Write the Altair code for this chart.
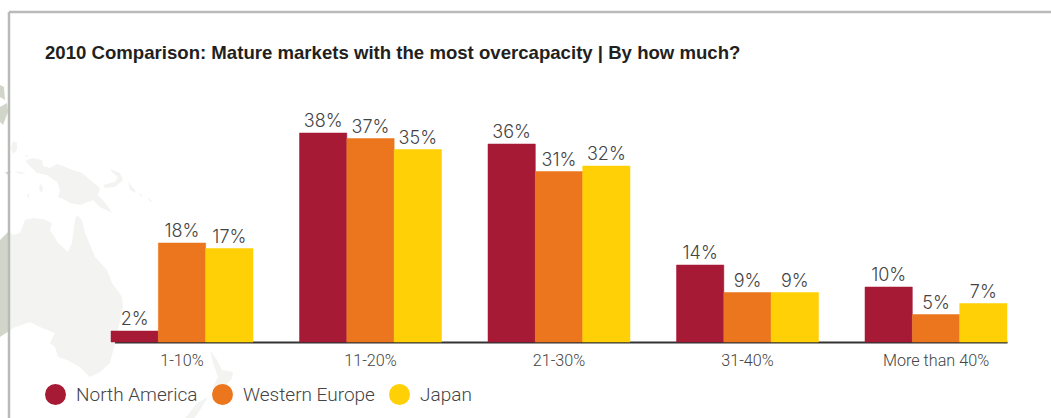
import altair as alt
import pandas as pd

# Overcapacity bands and the share of respondents in each region
bands = ["1-10%", "11-20%", "21-30%", "31-40%", "More than 40%"]
regions = ["North America", "Western Europe", "Japan"]
north_america = [2, 38, 36, 14, 10]
western_europe = [18, 37, 31, 9, 5]
japan = [17, 35, 32, 9, 7]
region_colors = ["#a61a36", "#eb761e", "#ffd005"]
chart_title = ["2010 Comparison: Mature markets with the most overcapacity | By how much?"]

# Backdrop map outlines, as (lon, lat) rings
australia = [(128.9, -14.1), (129.7, -14.7), (131.1, -14.3), (132.1, -11.7), (133.7, -11.3),
             (135.7, -11.5), (137.5, -12.3), (137.1, -13.7), (138.7, -16.3), (140.7, -18.1),
             (141.5, -16.3), (142.1, -11.7), (142.5, -10.7), (143.5, -11.7), (144.1, -14.3),
             (146.1, -19.1), (148.5, -21.7), (149.5, -24.3), (151.5, -27.1), (151.7, -29.1),
             (150.1, -36.3), (149.1, -40.3), (147.1, -42.1), (145.1, -43.1), (143.1, -41.1),
             (140.5, -39.7), (138.7, -39.1), (138.1, -37.1), (137.1, -36.3), (138.1, -34.3),
             (135.5, -33.3), (133.1, -32.1), (129.7, -33.3), (128.9, -33.9)]
new_guinea = [(132.3, 0.3), (133.7, 0.7), (135.5, 0.3), (135.7, -0.9), (137.1, -1.3), (138.5, -0.5),
              (139.7, -0.9), (141.1, -1.5), (143.5, -2.3), (145.1, -3.7), (147.1, -5.3), (146.7, -6.7),
              (148.5, -8.7), (149.5, -10.3), (147.1, -9.1), (145.7, -7.7), (143.1, -8.7), (141.1, -8.3),
              (140.1, -7.7), (138.7, -7.1), (139.1, -5.7), (138.5, -4.1), (136.5, -2.7), (134.5, -2.3),
              (133.5, -1.3), (132.5, -0.3)]
new_britain = [(149.1, -1.5), (151.1, -2.3), (151.7, -3.7), (150.1, -5.1), (148.1, -5.3),
               (147.7, -4.7), (150.1, -4.1), (150.7, -3.1), (149.5, -2.1)]
small_islands = [
    [(152.7, -4.1), (154.1, -5.7), (154.3, -6.3), (153.1, -5.7)],
    [(154.5, -6.1), (155.7, -6.9), (155.5, -7.1)],
    [(156.5, -7.1), (157.5, -7.9), (157.1, -8.1)],
    [(129.7, 4.1), (130.5, 3.7), (130.5, 2.3), (129.7, 1.5), (129.3, 2.7)],
    [(131.7, 1.3), (132.9, 1.1), (132.5, 0.9)],
    [(129.9, -1.9), (132.5, -2.3), (131.1, -2.5)],
    [(135.1, -4.5), (135.7, -5.1), (135.5, -6.3), (134.9, -5.7)],
    [(132.5, -6.7), (133.1, -6.3), (132.7, -7.5)],
]
nz_north = [(169.1, -37.7), (170.5, -39.7), (171.5, -41.7), (173.7, -42.1), (173.5, -43.3),
            (171.7, -45.3), (170.5, -46.3), (169.7, -45.1), (170.7, -43.1), (169.7, -40.3)]
nz_south = [(168.7, -47.1), (167.1, -49.7), (165.1, -52.7), (163.1, -52.7), (166.5, -48.3)]

# The same land seen outside the white panel is darker
outside_panel = [
    [(127.1, -15.7), (128.7, -14.1), (128.9, -33.9), (127.1, -35.1)],
    [(127.1, 10.9), (128.5, 11.7), (128.7, 9.9), (127.7, 7.3), (127.1, 7.9)],
    [(127.1, 15.3), (127.9, 14.9), (128.1, 12.3), (127.1, 12.9)],
    [(128.1, -2.1), (129.3, -2.1), (128.7, -2.7)],
]

LAND_INSIDE = "#f3f4f1"
LAND_OUTSIDE = "#d2d5ca"
FRAME = "#b9bbb9"
TEXT = "#444444"


def feature(ring):
    closed = [list(p) for p in ring] + [list(ring[0])]
    return {"type": "Feature", "properties": {},
            "geometry": {"type": "Polygon", "coordinates": [closed]}}


rows = [
    {"band": b, "region": r, "share": v}
    for r, series in zip(regions, [north_america, western_europe, japan])
    for b, v in zip(bands, series)
]
df = pd.DataFrame(rows)

projection = dict(type="equirectangular", scale=286.48, translate=[-746.5, 39.5])

inside_rings = [australia, new_guinea, new_britain, nz_north, nz_south] + small_islands
land_inside = (
    alt.Chart(alt.Data(values=[feature(r) for r in inside_rings]))
    .mark_geoshape(fill=LAND_INSIDE, stroke=None, clip=False, opacity=1)
    .project(**projection)
)
land_outside = (
    alt.Chart(alt.Data(values=[feature(r) for r in outside_panel]))
    .mark_geoshape(fill=LAND_OUTSIDE, stroke=None, clip=False, opacity=1)
    .project(**projection)
)

# Panel frame: top edge and left edge
frame_df = pd.DataFrame({"edge": ["top"]})
frame_top = alt.Chart(frame_df).mark_rule(color=FRAME, strokeWidth=2.5, clip=False).encode(
    x=alt.value(-102), x2=alt.value(940), y=alt.value(-110)
)
frame_left = alt.Chart(frame_df).mark_rule(color=FRAME, strokeWidth=2.5, clip=False).encode(
    x=alt.value(-102), y=alt.value(-110), y2=alt.value(296)
)

heading = alt.Chart(pd.DataFrame({"text": chart_title})).mark_text(
    align="left", baseline="alphabetic", font="Liberation Sans", fontSize=18.6,
    fontWeight="bold", color="#231f20",
).encode(x=alt.value(-66), y=alt.value(-63), text="text:N")

x = alt.X(
    "band:N", sort=bands, title=None,
    scale=alt.Scale(paddingInner=0.2467, paddingOuter=0),
    axis=alt.Axis(
        labelAngle=0, labelFont="Roboto", labelFontSize=16.2, labelFontWeight=300, labelColor=TEXT,
        labelPadding=10, ticks=False, domainColor="#333333", domainWidth=2, grid=False,
    ),
)
x_offset = alt.XOffset("region:N", sort=regions, scale=alt.Scale(paddingInner=0, paddingOuter=0))
y = alt.Y("share:Q", axis=None, scale=alt.Scale(domain=[0, 40]))

color_scale = alt.Scale(domain=regions, range=region_colors)
bars = alt.Chart(df).mark_bar(opacity=1, strokeWidth=0.5).encode(
    x=x, xOffset=x_offset, y=y,
    stroke=alt.Stroke("region:N", sort=regions, scale=color_scale, legend=None),
    color=alt.Color(
        "region:N", sort=regions,
        scale=color_scale,
        legend=alt.Legend(
            title=None, orient="none", legendX=-66, legendY=262, direction="horizontal",
            symbolType="circle", symbolSize=441, symbolStrokeWidth=0, symbolOpacity=1,
            labelFont="Roboto", labelFontSize=19, labelFontWeight=300, labelColor=TEXT,
            labelOffset=10, columnPadding=14, padding=0,
        ),
    ),
)

labels = alt.Chart(df).transform_calculate(label="datum.share + '%'").mark_text(
    baseline="alphabetic", dy=-6, font="Inter", fontSize=18, fontWeight=300, color=TEXT,
).encode(x=x, xOffset=x_offset, y=y, text="label:N")

chart = (
    alt.layer(land_outside, land_inside, frame_top, frame_left, bars, labels, heading)
    .properties(
        width=896, height=220,
        background="white",
        autosize=alt.AutoSizeParams(type="none"),
        padding={"left": 111, "top": 122, "right": 44, "bottom": 76},
    )
    .configure_view(stroke=None)
)

chart.save("out.html", embed_options={"renderer": "svg", "actions": False})
